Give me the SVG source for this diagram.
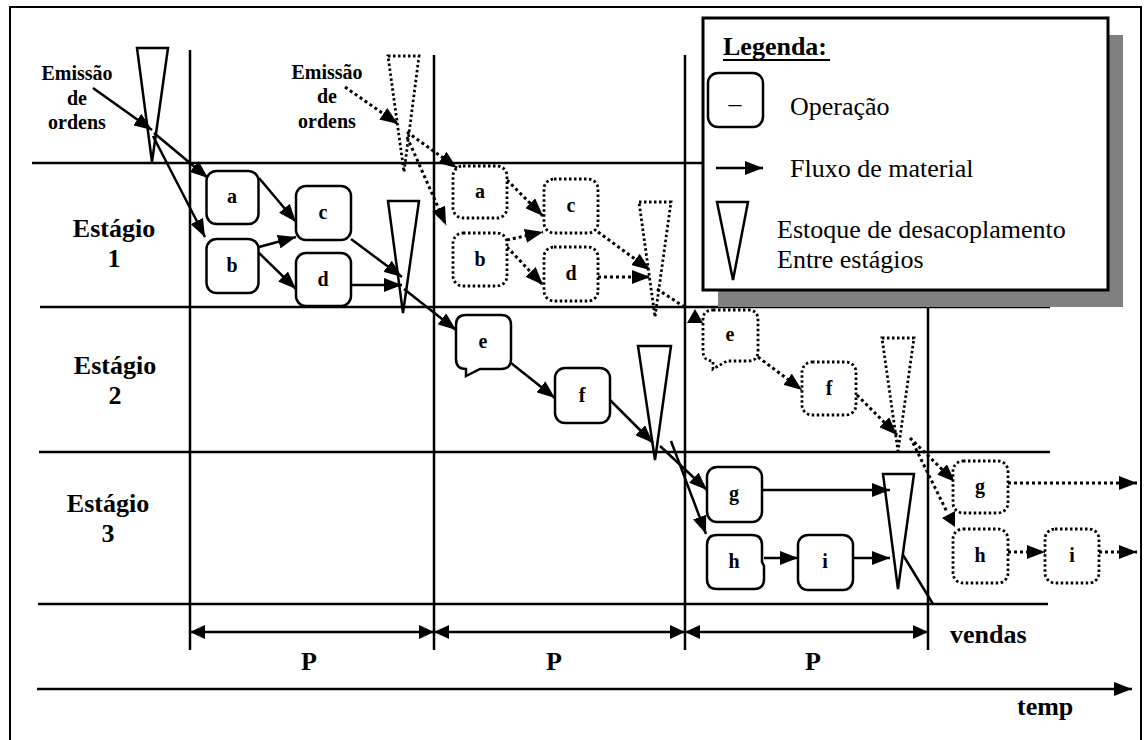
<svg xmlns="http://www.w3.org/2000/svg" width="1144" height="740" viewBox="0 0 1144 740">
<style>
.ln{stroke:#000;stroke-width:2.5;fill:none}
.op{stroke:#000;stroke-width:2.5;fill:#fff}
.opd{stroke:#000;stroke-width:2.8;fill:#fff;stroke-dasharray:2.5 2.5}
.tri{stroke:#000;stroke-width:2.5;fill:none}
.trid{stroke:#000;stroke-width:2.8;fill:none;stroke-dasharray:2.5 2.5}
.c{stroke:#000;stroke-width:2.5;fill:none;marker-end:url(#ah)}
.cd{stroke:#000;stroke-width:3;fill:none;stroke-dasharray:3 3;marker-end:url(#ah)}
.lbl{font-family:"Liberation Serif","Times New Roman",serif;font-weight:bold;font-size:26px;fill:#000}
.em{font-family:"Liberation Serif","Times New Roman",serif;font-weight:bold;font-size:20px;fill:#000;text-anchor:middle}
.nl{font-family:"Liberation Serif","Times New Roman",serif;font-weight:bold;font-size:20px;fill:#000;text-anchor:middle}
.lg{font-family:"Liberation Serif","Times New Roman",serif;font-size:26px;fill:#000}
</style>
<defs>
<marker id="ah" viewBox="0 0 18 14" refX="18" refY="7" markerWidth="18" markerHeight="14" markerUnits="userSpaceOnUse" orient="auto"><path d="M0,0 L18,7 L0,14 z" fill="#000" stroke="none"/></marker>
<marker id="ah2" viewBox="0 0 15 14" refX="15" refY="7" markerWidth="15" markerHeight="14" markerUnits="userSpaceOnUse" orient="auto-start-reverse"><path d="M0,0 L15,7 L0,14 z" fill="#000" stroke="none"/></marker>
</defs>
<rect width="1144" height="740" fill="#fff"/>
<path d="M10,741 V7 H1141 V741" fill="none" stroke="#000" stroke-width="2"/>

<g id="grid">
<line class="ln" x1="32" y1="163" x2="1050" y2="163"/>
<line class="ln" x1="40" y1="307" x2="1050" y2="307"/>
<line class="ln" x1="39" y1="452" x2="1050" y2="452"/>
<line class="ln" x1="38" y1="604" x2="1048" y2="604"/>
<line class="ln" x1="190" y1="50" x2="190" y2="650"/>
<line class="ln" x1="434" y1="55" x2="434" y2="650"/>
<line class="ln" x1="685" y1="55" x2="685" y2="650"/>
<line class="ln" x1="928" y1="55" x2="928" y2="650"/>
</g>

<g id="legend">
<rect x="718" y="35" width="405" height="272" fill="#808080"/>
<rect x="703" y="18" width="405" height="272" fill="#fff" stroke="#000" stroke-width="3"/>
<text class="lbl" x="723" y="55">Legenda:</text>
<line x1="723" y1="60" x2="830" y2="60" stroke="#000" stroke-width="2"/>
<rect class="op" x="708" y="73" width="55" height="54" rx="10"/>
<text class="lg" x="735" y="112" text-anchor="middle">–</text>
<text class="lg" x="790" y="115">Operação</text>
<line class="c" x1="716" y1="168" x2="763" y2="168"/>
<text class="lg" x="790" y="177">Fluxo de material</text>
<polygon class="tri" points="717,202 748,202 733,280"/>
<text class="lg" x="777" y="238">Estoque de desacoplamento</text>
<text class="lg" x="777" y="268">Entre estágios</text>
</g>

<g id="stage-labels">
<text class="lbl" x="114" y="237" text-anchor="middle">Estágio</text>
<text class="lbl" x="114" y="267" text-anchor="middle">1</text>
<text class="lbl" x="115" y="374" text-anchor="middle">Estágio</text>
<text class="lbl" x="115" y="404" text-anchor="middle">2</text>
<text class="lbl" x="108" y="512" text-anchor="middle">Estágio</text>
<text class="lbl" x="108" y="542" text-anchor="middle">3</text>
</g>

<g id="emissao1">
<text class="em" x="77" y="80">Emissão</text>
<text class="em" x="77" y="105">de</text>
<text class="em" x="77" y="129">ordens</text>
</g>
<g id="emissao2">
<text class="em" x="327" y="79">Emissão</text>
<text class="em" x="327" y="103">de</text>
<text class="em" x="327" y="128">ordens</text>
</g>

<g id="stocks">
<polygon id="T1" class="tri" points="137,48 168,48 152,162"/>
<polygon id="T2" class="tri" points="388,201 419,201 403,313"/>
<polygon id="T3" class="tri" points="638,346 671,346 655,460"/>
<polygon id="T4" class="tri" points="883,474 914,474 898,589"/>
<polygon id="D1" class="trid" points="388,56 419,56 404,172"/>
<polygon id="D2" class="trid" points="639,202 671,202 655,317"/>
<polygon id="D3" class="trid" points="882,338 914,338 898,451"/>
</g>

<g id="connectors">
<line class="c" x1="93" y1="88" x2="152" y2="130"/>
<line class="c" x1="154" y1="133" x2="208" y2="178"/>
<line class="c" x1="153" y1="136" x2="205" y2="237"/>
<line class="c" x1="259" y1="178" x2="296" y2="222"/>
<line class="c" x1="259" y1="247" x2="296" y2="237"/>
<line class="c" x1="259" y1="253" x2="296" y2="289"/>
<line class="c" x1="351" y1="239" x2="402" y2="277"/>
<line class="c" x1="352" y1="285" x2="402" y2="285"/>
<line class="c" x1="404" y1="289" x2="456" y2="330"/>
<line class="c" x1="511" y1="363" x2="555" y2="398"/>
<line class="c" x1="610" y1="400" x2="653" y2="443"/>
<line class="c" x1="660" y1="446" x2="707" y2="490"/>
<line class="c" x1="671" y1="441" x2="706" y2="534"/>
<line class="c" x1="762" y1="490" x2="890" y2="490"/>
<line class="c" x1="764" y1="558" x2="798" y2="558"/>
<line class="c" x1="853" y1="558" x2="890" y2="558"/>
<line class="ln" x1="903" y1="555" x2="933" y2="604"/>

<line class="cd" x1="345" y1="87" x2="398" y2="124"/>
<line class="cd" x1="407" y1="132" x2="457" y2="168"/>
<line class="cd" x1="407" y1="137" x2="446" y2="225"/>
<line class="cd" x1="507" y1="180" x2="543" y2="216"/>
<line class="cd" x1="507" y1="240" x2="543" y2="232"/>
<line class="cd" x1="507" y1="247" x2="543" y2="285"/>
<line class="cd" x1="598" y1="232" x2="650" y2="270"/>
<line class="cd" x1="598" y1="277" x2="650" y2="277"/>
<line x1="657" y1="289" x2="686" y2="308" stroke="#000" stroke-width="3" stroke-dasharray="3 3"/>
<polygon points="687,323 695,309 703,323" fill="#000"/>
<line class="cd" x1="758" y1="357" x2="802" y2="390"/>
<line class="cd" x1="857" y1="395" x2="897" y2="435"/>
<line class="cd" x1="910" y1="438" x2="955" y2="482"/>
<line x1="913" y1="443" x2="947" y2="512" stroke="#000" stroke-width="3" stroke-dasharray="3 3"/>
<polygon points="942,518 955,511 955,527" fill="#000"/>
<line class="cd" x1="1008" y1="483" x2="1137" y2="483"/>
<line class="cd" x1="1008" y1="552" x2="1045" y2="552"/>
<line class="cd" x1="1099" y1="552" x2="1137" y2="552"/>
</g>

<g id="node-a"><rect class="op" x="206.5" y="171" width="52" height="53" rx="10"/><text class="nl" x="232" y="203">a</text></g>
<g id="node-b"><rect class="op" x="206.5" y="239" width="52" height="54" rx="10"/><text class="nl" x="232" y="272">b</text></g>
<g id="node-c"><rect class="op" x="296" y="186" width="55" height="54" rx="10"/><text class="nl" x="323" y="219">c</text></g>
<g id="node-d"><rect class="op" x="296" y="253" width="55" height="53" rx="10"/><text class="nl" x="323" y="286">d</text></g>
<g id="node-e"><path class="op" d="M466,315 H501 Q511,315 511,325 V359 Q511,369 501,369 H480 L466,376 L466,369 Q456,369 456,359 V325 Q456,315 466,315 Z"/><text class="nl" x="483" y="348">e</text></g>
<g id="node-f"><rect class="op" x="555" y="368" width="55" height="55" rx="10"/><text class="nl" x="582" y="402">f</text></g>
<g id="node-g"><rect class="op" x="707" y="467" width="55" height="55" rx="10"/><text class="nl" x="734" y="500">g</text></g>
<g id="node-h"><path class="op" d="M717,535 H752 Q762,535 762,545 V562 L764,566 V579 Q764,589 754,589 H717 Q707,589 707,579 V545 Q707,535 717,535 Z"/><text class="nl" x="734" y="568">h</text></g>
<g id="node-i"><rect class="op" x="798" y="535" width="55" height="55" rx="10"/><text class="nl" x="825" y="568">i</text></g>

<g id="node-a2"><rect class="opd" x="453" y="166" width="54" height="52" rx="10"/><text class="nl" x="480" y="198">a</text></g>
<g id="node-b2"><rect class="opd" x="453" y="233" width="54" height="53" rx="10"/><text class="nl" x="480" y="266">b</text></g>
<g id="node-c2"><rect class="opd" x="544" y="179" width="54" height="54" rx="10"/><text class="nl" x="571" y="212">c</text></g>
<g id="node-d2"><rect class="opd" x="544" y="247" width="54" height="54" rx="10"/><text class="nl" x="571" y="280">d</text></g>
<g id="node-e2"><path class="opd" d="M713,310 H748 Q758,310 758,320 V351 Q758,361 748,361 H727 L713,369 L713,361 Q703,361 703,351 V320 Q703,310 713,310 Z"/><text class="nl" x="730" y="341">e</text></g>
<g id="node-f2"><rect class="opd" x="802" y="362" width="54" height="53" rx="10"/><text class="nl" x="829" y="395">f</text></g>
<g id="node-g2"><rect class="opd" x="953" y="461" width="55" height="52" rx="10"/><text class="nl" x="980" y="493">g</text></g>
<g id="node-h2"><rect class="opd" x="953" y="529" width="55" height="54" rx="10"/><text class="nl" x="980" y="562">h</text></g>
<g id="node-i2"><rect class="opd" x="1045" y="529" width="54" height="54" rx="10"/><text class="nl" x="1072" y="562">i</text></g>

<g id="time">
<line x1="190" y1="632" x2="434" y2="632" stroke="#000" stroke-width="2.5" marker-start="url(#ah2)" marker-end="url(#ah2)"/>
<line x1="434" y1="632" x2="685" y2="632" stroke="#000" stroke-width="2.5" marker-start="url(#ah2)" marker-end="url(#ah2)"/>
<line x1="685" y1="632" x2="928" y2="632" stroke="#000" stroke-width="2.5" marker-start="url(#ah2)" marker-end="url(#ah2)"/>
<text class="lbl" x="309" y="670" text-anchor="middle">P</text>
<text class="lbl" x="554" y="670" text-anchor="middle">P</text>
<text class="lbl" x="813" y="670" text-anchor="middle">P</text>
<text class="lbl" x="950" y="643">vendas</text>
<line class="c" x1="37" y1="689" x2="1132" y2="689"/>
<text class="lbl" x="1017" y="715">temp</text>
</g>
</svg>
